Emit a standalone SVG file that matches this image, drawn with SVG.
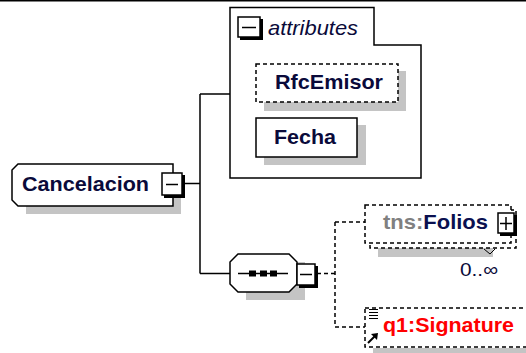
<svg xmlns="http://www.w3.org/2000/svg" width="526" height="353" viewBox="0 0 526 353">
<style>
.ln{fill:none;stroke:#000;stroke-width:1.5}
.dash{fill:none;stroke:#000;stroke-width:1.5;stroke-dasharray:4 3}
.box{fill:#fff;stroke:#000;stroke-width:1.5}
.dbox{fill:#fff;stroke:#000;stroke-width:1.5;stroke-dasharray:4 3}
.sh{fill:#c4c4c4}
.t{font-family:"Liberation Sans",Arial,sans-serif;font-size:21px;font-weight:bold;fill:#0a0a3a}
.btn{fill:#fff;stroke:#000;stroke-width:1.5}
.btnsh{fill:#000}
</style>
<rect x="0" y="0" width="526" height="1.5" fill="#000"/>
<g id="connectors">
<path class="ln" d="M184,183.5 H200 M200,94 V273.5 M200,94 H230 M200,273.5 H230"/>
<path class="dash" d="M317,273.5 H335 M335,222 V327 M335,222 H365 M335,327 H365"/>
</g>
<g id="Cancelacion">
<path class="sh" d="M26,172 H181 V214 H26 Z"/>
<path class="box" d="M18,164 H173 V206 H18 L12,200 V170 Z"/>
<text class="t" x="22" y="191" textLength="127" lengthAdjust="spacingAndGlyphs">Cancelacion</text>
<rect class="btnsh" x="164" y="175" width="21" height="23"/>
<rect class="btn" x="162" y="173" width="20" height="22"/>
<path class="ln" d="M166,184.5 H178"/>
</g>
<g id="attributes">
<path class="box" d="M230,7.5 H374 V45 H421 V178 H230 Z"/>
<rect class="btnsh" x="240" y="19" width="23" height="21"/>
<rect class="btn" x="238" y="17" width="22" height="20"/>
<path class="ln" d="M242,27.5 H256"/>
<text class="t" x="268" y="35" style="font-weight:normal;font-style:italic" textLength="90" lengthAdjust="spacingAndGlyphs">attributes</text>
</g>
<g id="RfcEmisor">
<rect class="sh" x="264" y="71" width="142" height="40"/>
<rect class="dbox" x="256" y="64" width="142" height="38"/>
<text class="t" x="275" y="89" textLength="108" lengthAdjust="spacingAndGlyphs">RfcEmisor</text>
</g>
<g id="Fecha">
<rect class="sh" x="264" y="125" width="102" height="40"/>
<rect class="box" x="256" y="118" width="101" height="39"/>
<text class="t" x="274" y="144" textLength="62" lengthAdjust="spacingAndGlyphs">Fecha</text>
</g>
<g id="sequence">
<path class="sh" d="M246,262 H305 V300 H246 Z"/>
<path class="box" d="M238,254 H289 L297,262 V284 L289,292 H238 L230,284 V262 Z"/>
<path class="ln" d="M238,273.5 H288"/>
<rect x="249" y="270.5" width="7" height="6" fill="#000"/>
<rect x="260" y="270.5" width="7" height="6" fill="#000"/>
<rect x="270" y="270.5" width="7" height="6" fill="#000"/>
<rect class="btnsh" x="299" y="266" width="19" height="22"/>
<rect class="btn" x="297" y="264" width="18" height="21"/>
<path class="ln" d="M300,274.5 H312"/>
</g>
<g id="Folios">
<rect class="sh" x="378" y="248" width="115" height="9"/>
<rect class="dbox" x="370" y="210" width="146" height="38"/>
<rect class="dbox" x="365" y="205" width="146" height="38"/>
<path class="dash" d="M484,249 L490,254 L495,249" style="stroke-dasharray:none;stroke-width:1"/>
<text class="t" x="383" y="229" textLength="105" lengthAdjust="spacingAndGlyphs"><tspan fill="#808080">tns:</tspan><tspan fill="#0a1050">Folios</tspan></text>
<rect class="btnsh" x="500" y="215" width="17" height="21"/>
<rect class="btn" x="498" y="213" width="16" height="20"/>
<path class="ln" d="M500,223.5 H512 M506,217 V230"/>
<text x="460" y="276" textLength="38" lengthAdjust="spacingAndGlyphs" style="font-family:'Liberation Sans',Arial,sans-serif;font-size:19px;fill:#0a0a3a">0..∞</text>
</g>
<g id="Signature">
<rect class="sh" x="373" y="348" width="160" height="6"/>
<rect class="dbox" x="365" y="308" width="170" height="39"/>
<path class="ln" d="M369,309.5 H378 M369,312.5 H378 M369,315.5 H378 M369,318.5 H378" style="stroke-width:1.2"/>
<path class="ln" d="M368,343 L375,336" style="stroke-width:2"/>
<path d="M378,333 L371,334 L377,340 Z" fill="#000"/>
<text class="t" x="383" y="332" style="fill:#ff0000" textLength="131" lengthAdjust="spacingAndGlyphs">q1:Signature</text>
</g>
</svg>
